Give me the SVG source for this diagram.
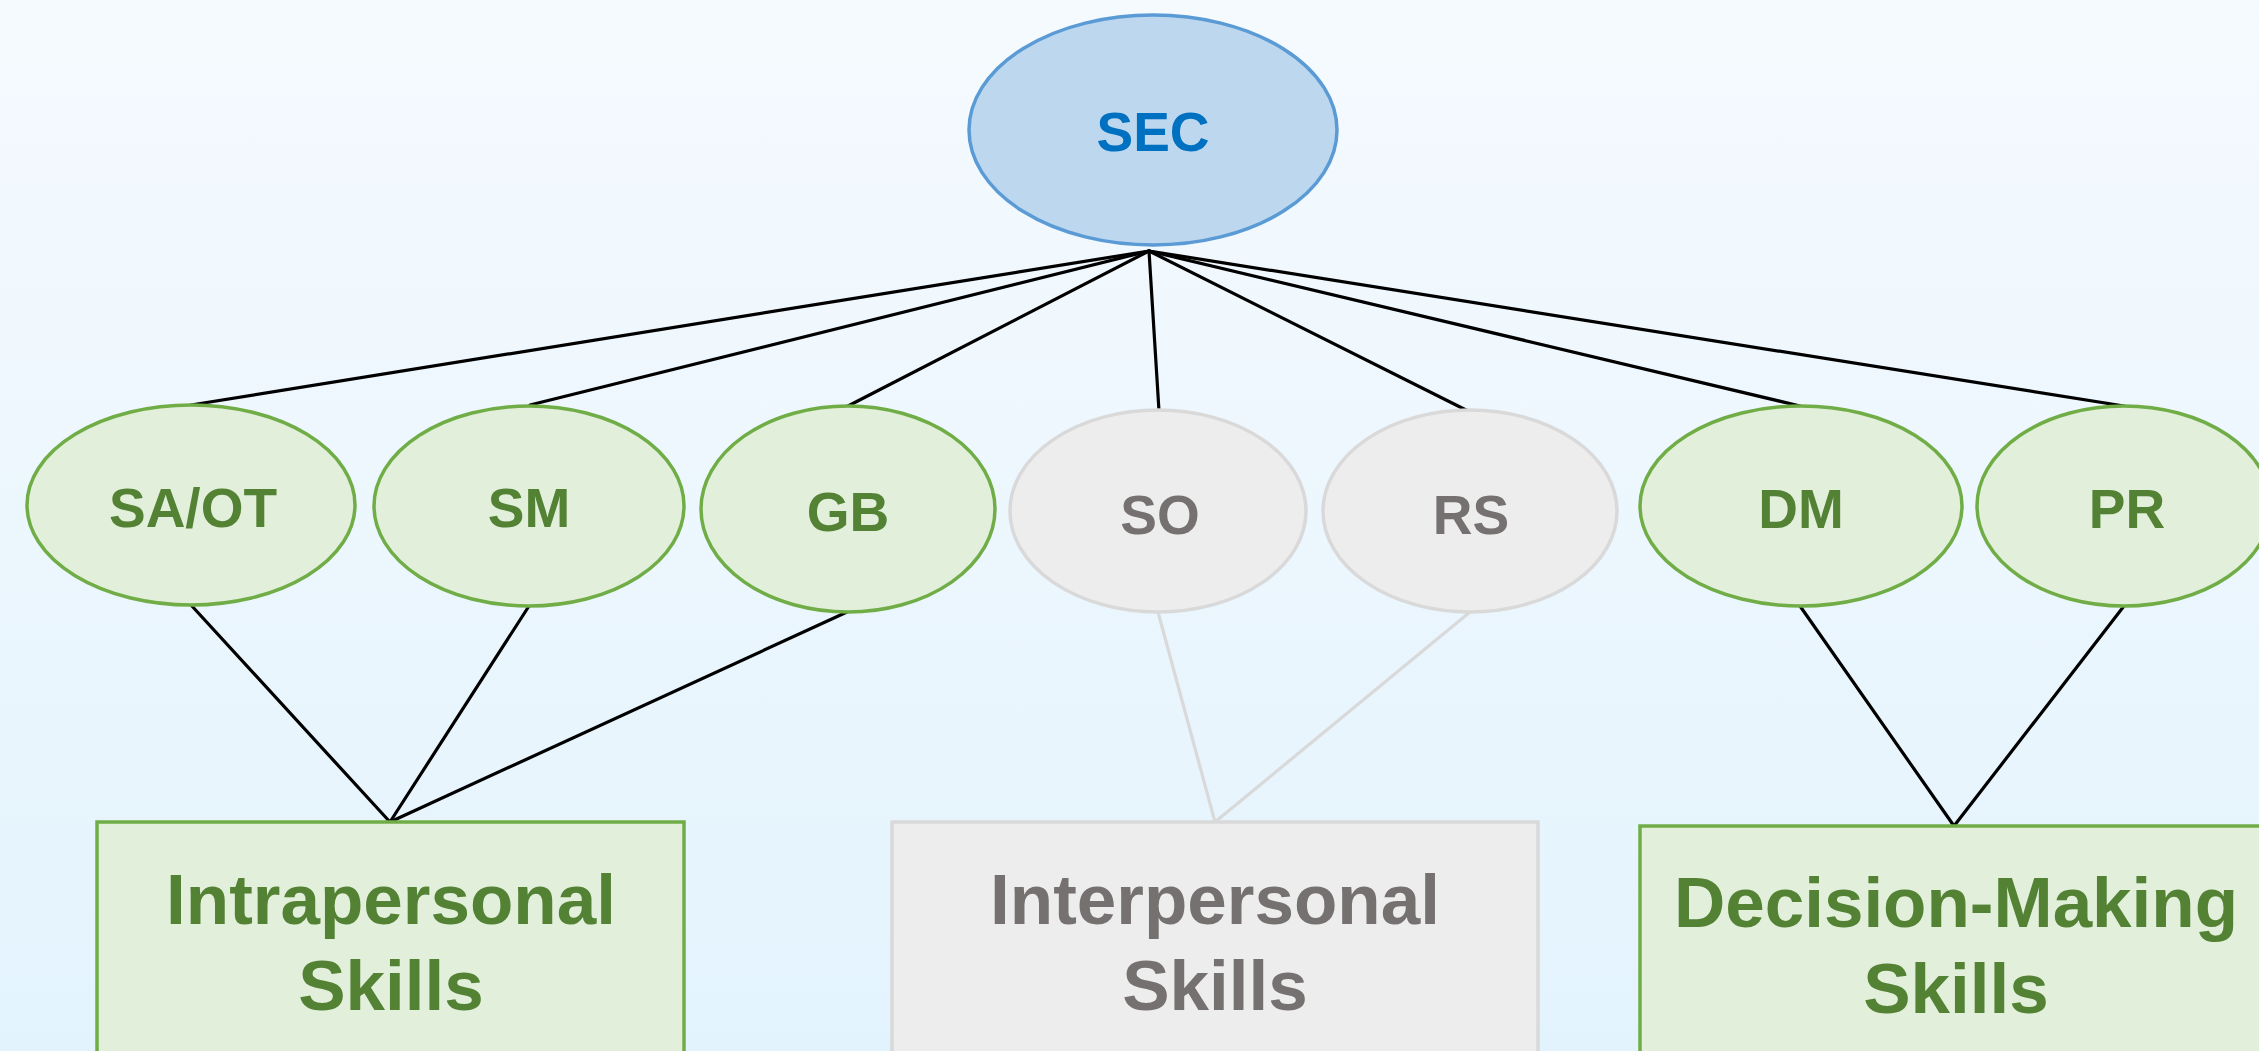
<svg xmlns="http://www.w3.org/2000/svg" width="2259" height="1051" viewBox="0 0 2259 1051">
  <defs>
    <linearGradient id="bg" x1="0" y1="0" x2="0" y2="1">
      <stop offset="0" stop-color="#f5fafe"/>
      <stop offset="1" stop-color="#e3f3fd"/>
    </linearGradient>
    <style>
      text { font-family: "Liberation Sans", Arial, sans-serif; font-weight: bold; text-anchor: middle; }
      .root { fill: #bdd7ee; stroke: #5b9bd5; stroke-width: 3.5; }
      .root-label { fill: #0070c0; font-size: 55px; }
      .on { fill: #e2efda; stroke: #70ad47; stroke-width: 3.5; }
      .off { fill: #ededed; stroke: #d9d9d9; stroke-width: 3.5; }
      .on-label { fill: #548235; }
      .off-label { fill: #767171; }
      .small { font-size: 55px; }
      .big { font-size: 71px; }
      .link { stroke: #000; stroke-width: 3.2; fill: none; stroke-linecap: round; }
      .link-off { stroke: #d9d9d9; stroke-width: 3.2; fill: none; stroke-linecap: round; }
    </style>
  </defs>

  <rect width="2259" height="1051" fill="url(#bg)"/>

  <!-- connectors -->
  <g id="connectors">
    <line class="link" x1="1149" y1="251" x2="191" y2="405"/>
    <line class="link" x1="1149" y1="251" x2="530" y2="405"/>
    <line class="link" x1="1149" y1="251" x2="848" y2="406"/>
    <line class="link" x1="1149" y1="251" x2="1159" y2="411"/>
    <line class="link" x1="1149" y1="251" x2="1470" y2="412"/>
    <line class="link" x1="1149" y1="251" x2="1800" y2="406"/>
    <line class="link" x1="1149" y1="251" x2="2124" y2="406"/>

    <line class="link" x1="191" y1="605" x2="390" y2="822"/>
    <line class="link" x1="529" y1="606" x2="390" y2="822"/>
    <line class="link" x1="847" y1="612" x2="390" y2="822"/>

    <line class="link-off" x1="1158" y1="612" x2="1215" y2="822"/>
    <line class="link-off" x1="1470" y1="612" x2="1215" y2="822"/>

    <line class="link" x1="1800" y1="606" x2="1954" y2="826"/>
    <line class="link" x1="2124" y1="606" x2="1954" y2="826"/>
  </g>

  <!-- root -->
  <g id="node-sec">
    <ellipse class="root" cx="1153" cy="130" rx="184" ry="115"/>
    <text class="root-label" x="1153" y="151">SEC</text>
  </g>

  <!-- competencies -->
  <g id="node-saot">
    <ellipse class="on" cx="191" cy="505" rx="164" ry="100"/>
    <text class="on-label small" x="193" y="527">SA/OT</text>
  </g>
  <g id="node-sm">
    <ellipse class="on" cx="529" cy="506" rx="155" ry="100"/>
    <text class="on-label small" x="529" y="527">SM</text>
  </g>
  <g id="node-gb">
    <ellipse class="on" cx="848" cy="509" rx="147" ry="103"/>
    <text class="on-label small" x="848" y="531">GB</text>
  </g>
  <g id="node-so">
    <ellipse class="off" cx="1158" cy="511" rx="148" ry="101"/>
    <text class="off-label small" x="1160" y="534">SO</text>
  </g>
  <g id="node-rs">
    <ellipse class="off" cx="1470" cy="511" rx="147" ry="101"/>
    <text class="off-label small" x="1471" y="534">RS</text>
  </g>
  <g id="node-dm">
    <ellipse class="on" cx="1801" cy="506" rx="161" ry="100"/>
    <text class="on-label small" x="1801" y="528">DM</text>
  </g>
  <g id="node-pr">
    <ellipse class="on" cx="2124" cy="506" rx="147" ry="100"/>
    <text class="on-label small" x="2127" y="528">PR</text>
  </g>

  <!-- skill groups -->
  <g id="group-intrapersonal">
    <rect class="on" x="97" y="822" width="587" height="260"/>
    <text class="on-label big" x="391" y="924">Intrapersonal</text>
    <text class="on-label big" x="391" y="1010">Skills</text>
  </g>
  <g id="group-interpersonal">
    <rect class="off" x="892" y="822" width="646" height="260"/>
    <text class="off-label big" x="1215" y="924">Interpersonal</text>
    <text class="off-label big" x="1215" y="1010">Skills</text>
  </g>
  <g id="group-decision">
    <rect class="on" x="1640" y="826" width="634" height="260"/>
    <text class="on-label big" x="1956" y="927">Decision-Making</text>
    <text class="on-label big" x="1956" y="1013">Skills</text>
  </g>
</svg>
